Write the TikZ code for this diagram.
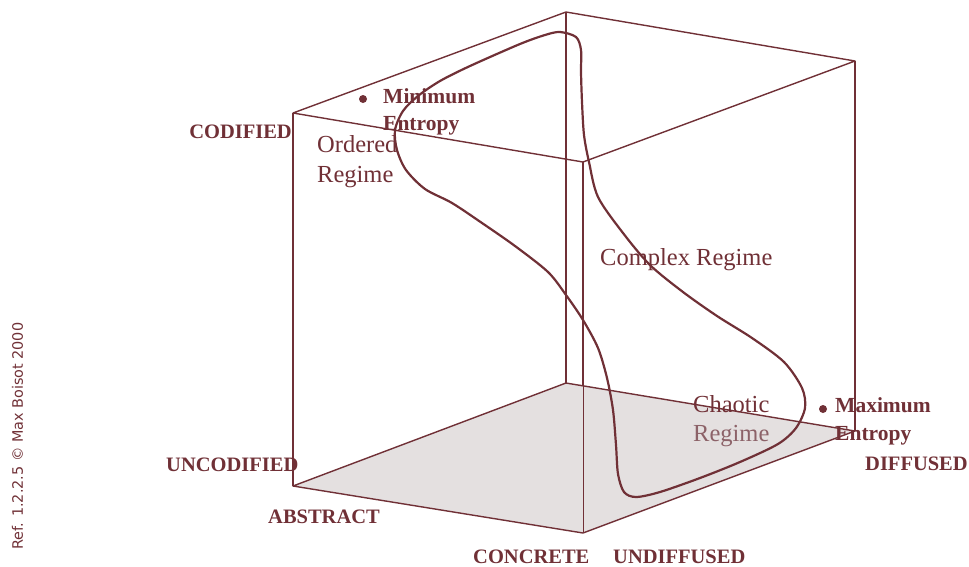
\documentclass[tikz,border=0pt]{standalone}
\usepackage{fontspec}
\setmainfont{Liberation Serif}
\newfontfamily\reffont{DejaVu Sans}
\definecolor{maroon}{RGB}{112,48,54}
\definecolor{paleregime}{RGB}{140,98,104}
\definecolor{floorgray}{RGB}{228,224,224}

\begin{document}
\begin{tikzpicture}[x=1pt, y=-1pt, line join=round,
	edge/.style={draw=maroon, line width=1.4pt},
	axis/.style={text=maroon, inner sep=0pt, font=\fontsize{20.5}{24}\selectfont\bfseries},
	regime/.style={text=maroon, inner sep=0pt, font=\fontsize{24.5}{29}\selectfont},
	entropy/.style={text=maroon, inner sep=0pt, font=\fontsize{21.5}{27}\selectfont\bfseries}]
		\useasboundingbox (0,0) rectangle (969,566);
		% cube corners
		\coordinate (A) at (293,113);
		\coordinate (B) at (566,12);
		\coordinate (C) at (855,61);
		\coordinate (D) at (583,162);
		\coordinate (A') at (293,486);
		\coordinate (B') at (566,383);
		\coordinate (C') at (855,431);
		\coordinate (D') at (583,533);
		\coordinate (DB) at (583,386);
		% floor
		\fill[floorgray] (A') -- (B') -- (C') -- (D') -- cycle;
		\draw[edge] (A') -- (B') -- (C') -- (D') -- cycle;
		\draw[edge] (A) -- (B) -- (C) -- (D) -- cycle;
		\draw[edge, line width=2.4pt] (A) -- (A');
		\draw[edge] (B) -- (B');
		\draw[edge] (C) -- (C');
		\draw[edge] (D) -- (DB);
		\draw[edge, line width=0.8pt] (DB) -- (D');
		% regime curve
		\draw[maroon, line width=2.2pt] plot[smooth cycle] coordinates {
			(560,32) (576,37) (581,50) (581,72) (582,102) (584,135) (589,162)
			(598,197) (623,233) (650,265) (683,292) (717,316) (752,338)
			(784,362) (802,388) (805,408) (796,428) (778,444) (740,462)
			(700,478) (660,492) (636,497) (624,492) (618,474) (616,445)
			(613,410) (607,378) (598,348) (583,320) (566,295) (548,272)
			(515,246) (482,223) (452,203) (425,189) (406,170) (397,150)
			(395,130) (403,111) (418,96) (440,81) (470,66) (520,44) (545,35)};
		% labels
		\fill[maroon] (363,99) circle (4);
		\node[entropy, anchor=base west] (minA) at (383,103) {Minimum};
		\node[entropy, anchor=base west] (minB) at (383,130) {Entropy};
		\fill[maroon] (823,409) circle (4);
		\node[entropy, anchor=base west] (maxA) at (835,412) {Maximum};
		\node[entropy, anchor=base west] (maxB) at (835,440) {Entropy};
		\node[regime, anchor=base west] (ordA) at (317,152) {Ordered};
		\node[regime, anchor=base west] (ordB) at (317,182) {Regime};
		\node[regime, anchor=base west] (cplx) at (600,265) {Complex Regime};
		\node[regime, anchor=base west] (chaA) at (693,412) {Chaotic};
		\node[regime, anchor=base west, text=paleregime] (chaB) at (693,441) {Regime};
		\node[axis, anchor=base east] (cod) at (292,138) {CODIFIED};
		\node[axis, anchor=base west] (uncod) at (166,471) {UNCODIFIED};
		\node[axis, anchor=base west] (abs) at (268,523) {ABSTRACT};
		\node[axis, anchor=base west] (conc) at (473,563) {CONCRETE};
		\node[axis, anchor=base west] (undif) at (613,563) {UNDIFFUSED};
		\node[axis, anchor=base west] (dif) at (865,470) {DIFFUSED};
		\node[rotate=90, anchor=base west, inner sep=0pt, text=maroon,
			font=\reffont\fontsize{14.4}{16}\selectfont] (ref) at (23,550)
			{Ref. 1.2.2.5 © Max Boisot 2000};
\end{tikzpicture}
\end{document}
